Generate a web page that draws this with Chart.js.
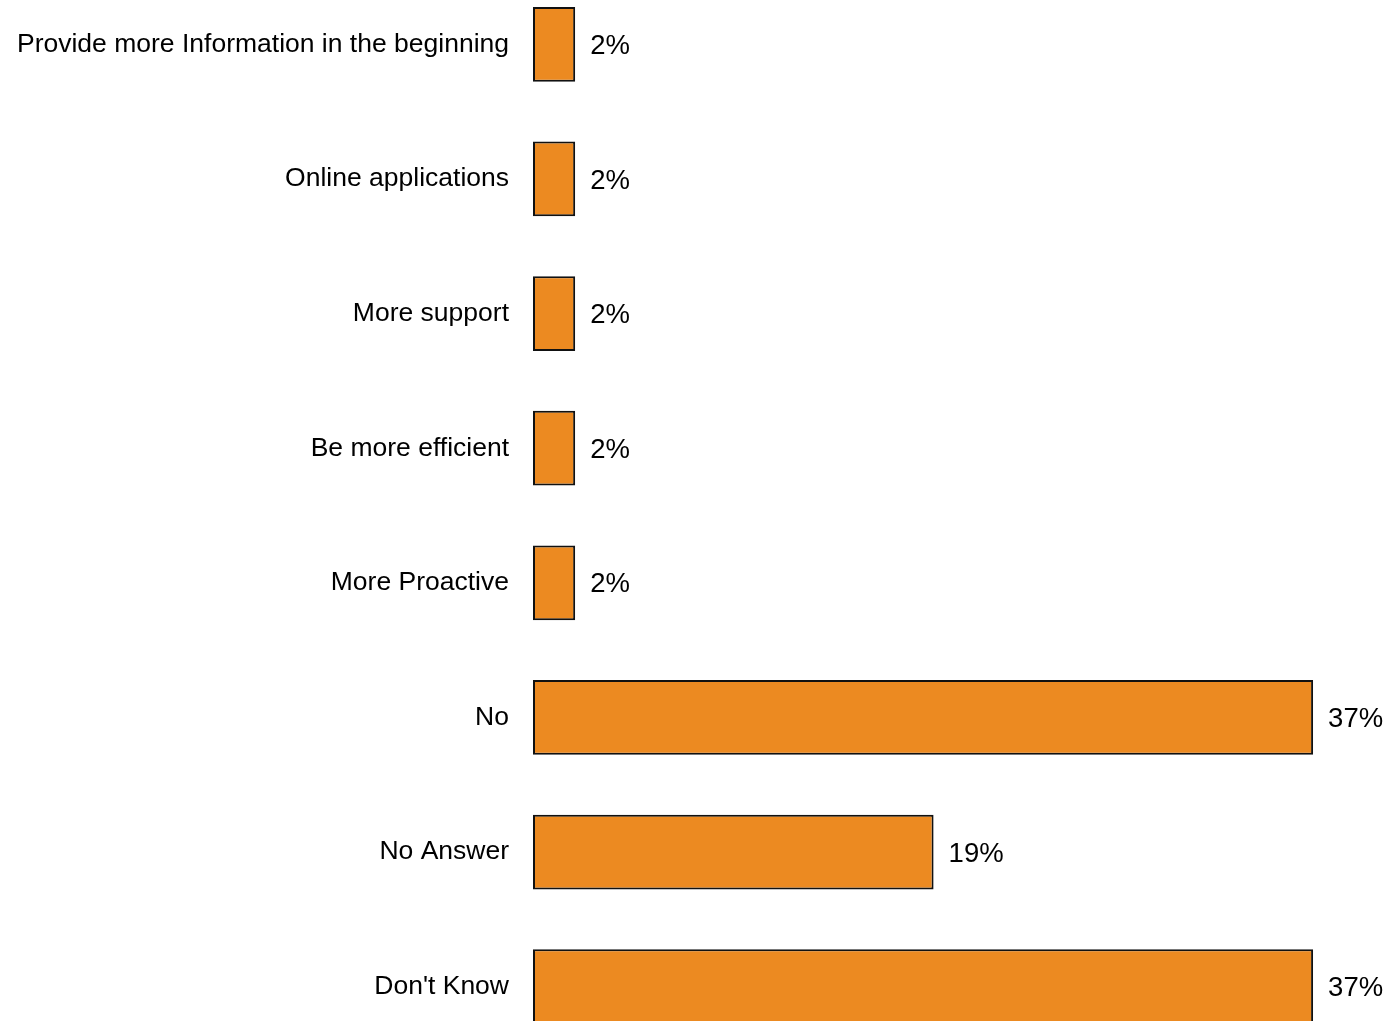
<!DOCTYPE html>
<html>
<head>
<meta charset="utf-8">
<script src="https://cdn.jsdelivr.net/npm/chart.js@4"></script>
<style>
  html, body { margin: 0; padding: 0; background: #fff; overflow: hidden; }
  #wrap { position: absolute; left: 0; top: -23px; width: 1389px; height: 1077px; }
</style>
</head>
<body>
<div id="wrap"><canvas id="chart"></canvas></div>
<script>
// survey answers and their shares (%)
const categories = [
  'Provide more Information in the beginning',
  'Online applications',
  'More support',
  'Be more efficient',
  'More Proactive',
  'No',
  'No Answer',
  "Don't Know"
];
const shares = [2, 2, 2, 2, 2, 37, 19, 37];

const FONT = '"Liberation Sans", Arial, sans-serif';

// percent labels at the end of each bar
const valueLabels = {
  id: 'valueLabels',
  afterDatasetsDraw(chart) {
    const ctx = chart.ctx;
    const meta = chart.getDatasetMeta(0);
    ctx.save();
    ctx.font = '27.5px ' + FONT;
    ctx.fillStyle = '#000';
    ctx.textAlign = 'left';
    ctx.textBaseline = 'middle';
    meta.data.forEach((bar, i) => {
      ctx.fillText(shares[i] + '%', bar.x + 15, bar.y + 2);
    });
    ctx.restore();
  }
};

new Chart(document.getElementById('chart'), {
  type: 'bar',
  data: {
    labels: categories,
    datasets: [{
      data: shares,
      backgroundColor: '#EC8A21',
      borderColor: '#111',
      borderWidth: 2,
      borderSkipped: false,
      barPercentage: 0.555,
      categoryPercentage: 1
    }]
  },
  options: {
    indexAxis: 'y',
    responsive: true,
    maintainAspectRatio: false,
    animation: false,
    layout: { padding: 0 },
    plugins: {
      legend: { display: false },
      tooltip: { enabled: false }
    },
    scales: {
      x: {
        display: false,
        min: 0,
        max: 40.6
      },
      y: {
        grid: { display: false, drawTicks: false },
        border: { display: false },
        ticks: {
          color: '#000',
          padding: 24,
          font: { family: FONT, size: 26.5 }
        },
        afterFit(scale) {
          // fixed label column, no extra room above/below the bands
          scale.width = 533;
          scale.paddingTop = 0;
          scale.paddingBottom = 0;
        }
      }
    }
  },
  plugins: [valueLabels]
});
</script>
</body>
</html>
